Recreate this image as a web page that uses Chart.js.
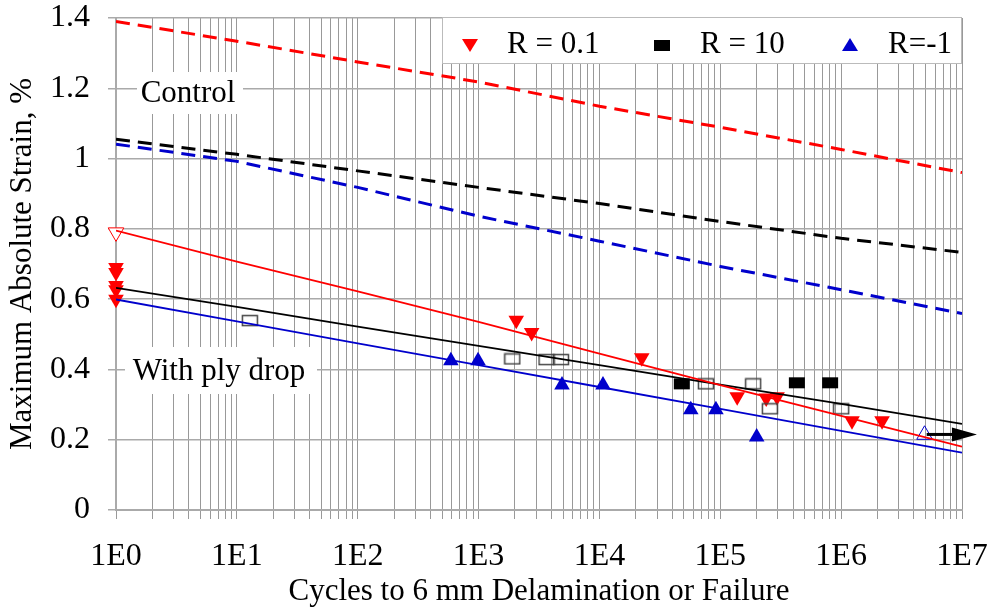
<!DOCTYPE html>
<html>
<head>
<meta charset="utf-8">
<script src="https://cdn.jsdelivr.net/npm/chart.js@4/dist/chart.umd.min.js"></script>
<style>
  html, body { margin: 0; padding: 0; background: #fff; }
  #wrap { width: 987px; height: 611px; }
</style>
</head>
<body>
<div id="wrap"><canvas id="chart"></canvas></div>
<script>
// cycles at which the fit lines were read (one per decade)
const decades = [1, 1e1, 1e2, 1e3, 1e4, 1e5, 1e6, 1e7];
const decadeLabels = ['1E0', '1E1', '1E2', '1E3', '1E4', '1E5', '1E6', '1E7'];

// control (no ply drop) fits, dashed
const controlR01 = [1.39, 1.334, 1.275, 1.218, 1.149, 1.089, 1.026, 0.96];
const controlR10 = [1.055, 1.012, 0.965, 0.918, 0.872, 0.821, 0.773, 0.733];
const controlRm1 = [1.041, 0.992, 0.918, 0.836, 0.765, 0.693, 0.627, 0.559];

// with ply drop fits, solid
const plyR01 = [0.795, 0.707, 0.622, 0.535, 0.445, 0.355, 0.268, 0.18];
const plyR10 = [0.632, 0.578, 0.522, 0.467, 0.412, 0.357, 0.302, 0.245];
const plyRm1 = [0.599, 0.537, 0.474, 0.412, 0.35, 0.288, 0.225, 0.163];

// test points
const r01Cycles = [1, 1, 1, 1, 1, 2050, 2750, 22400, 1.38e5, 2.4e5, 2.95e5, 1.23e6, 2.18e6];
const r01Strain = [0.69, 0.676, 0.639, 0.627, 0.6, 0.54, 0.505, 0.433, 0.322, 0.319, 0.322, 0.254, 0.254];
const r01OpenCycles = [1];
const r01OpenStrain = [0.79];

const r10Cycles = [4.8e4, 4.3e5, 8.1e5];
const r10Strain = [0.359, 0.362, 0.362];
const r10OpenCycles = [12.8, 1900, 3650, 4800, 7.6e4, 1.87e5, 2.57e5, 1.0e6];
const r10OpenStrain = [0.539, 0.43, 0.428, 0.428, 0.359, 0.359, 0.288, 0.288];

const rm1Cycles = [590, 990, 4900, 1.07e4, 5.7e4, 9.2e4, 2.0e5];
const rm1Strain = [0.425, 0.425, 0.356, 0.356, 0.285, 0.285, 0.208];
const rm1OpenCycles = [4.9e6];
const rm1OpenStrain = [0.214];

// run-out arrow, in data units
const arrowFrom = { x: 5.1e6, y: 0.215 };
const arrowTo = { x: 1.33e7, y: 0.215 };

const yTickValues = [0, 0.1, 0.2, 0.3, 0.4, 0.5, 0.6, 0.7, 0.8, 0.9, 1.0, 1.1, 1.2, 1.3, 1.4];

const RED = '#ff0000';
const BLUE = '#0000cc';
const FONT = "'Liberation Serif', 'Times New Roman', serif";

const pairs = (xs, ys) => xs.map((x, i) => ({ x: x, y: ys[i] }));

// log grid: 1..9 in every decade
const xTickValues = [];
decades.forEach((d, i) => {
    if (i === decades.length - 1) { xTickValues.push(d); return; }
    for (let k = 1; k < 10; k++) xTickValues.push(k * d);
});

function rectMarker(w, h, fill, stroke) {
    const c = document.createElement('canvas');
    c.width = w + 2;
    c.height = h + 2;
    const g = c.getContext('2d');
    if (fill) {
        g.fillStyle = fill;
        g.fillRect(1, 1, w, h);
    } else {
        g.strokeStyle = stroke;
        g.lineWidth = 1.5;
        g.strokeRect(1.5, 1.5, w - 1, h - 1);
    }
    return c;
}
const filledRect = rectMarker(16, 11, '#000', null);
const openRect = rectMarker(16, 11, null, '#444');

function fitLine(values, color, dashed) {
    return {
        type: 'line',
        data: pairs(decades, values),
        borderColor: color,
        borderWidth: dashed ? 3 : 1.8,
        borderDash: dashed ? [14, 8] : [],
        pointRadius: 0,
        tension: 0,
        fill: false
    };
}

function scatterSet(xs, ys, style) {
    return Object.assign({
        type: 'scatter',
        data: pairs(xs, ys),
        clip: false,
        pointHoverRadius: 0
    }, style);
}

const labelsPlugin = {
    id: 'labels',
    afterDatasetsDraw(chart) {
        const { ctx, scales: { x, y }, chartArea } = chart;
        ctx.save();

        // text boxes
        const boxes = [
            { text: 'Control', l: 137, t: 72, r: 243, b: 114 },
            { text: 'With ply drop', l: 125, t: 347, r: 317, b: 394 }
        ];
        ctx.font = '31px ' + FONT;
        ctx.textAlign = 'center';
        ctx.textBaseline = 'middle';
        boxes.forEach(bx => {
            ctx.fillStyle = '#fff';
            ctx.fillRect(bx.l, bx.t, bx.r - bx.l, bx.b - bx.t);
            ctx.fillStyle = '#000';
            ctx.fillText(bx.text, (bx.l + bx.r) / 2 - 2, (bx.t + bx.b) / 2 + 1);
        });

        // run-out arrow
        const ax0 = x.getPixelForValue(arrowFrom.x);
        const ax1 = x.getPixelForValue(arrowTo.x);
        const ay = y.getPixelForValue(arrowFrom.y);
        ctx.strokeStyle = '#000';
        ctx.lineWidth = 3;
        ctx.beginPath();
        ctx.moveTo(ax0, ay);
        ctx.lineTo(ax1 - 20, ay);
        ctx.stroke();
        ctx.fillStyle = '#000';
        ctx.beginPath();
        ctx.moveTo(ax1, ay);
        ctx.lineTo(ax1 - 25, ay - 7);
        ctx.lineTo(ax1 - 25, ay + 7);
        ctx.closePath();
        ctx.fill();

        // legend
        const lr = chartArea.right;
        const lt = chartArea.top - 1;
        const ll = 442;
        const lb = 63;
        ctx.fillStyle = '#fff';
        ctx.fillRect(ll, lt, lr - ll, lb - lt);
        ctx.strokeStyle = '#bbb';
        ctx.lineWidth = 1;
        ctx.strokeRect(ll + 0.5, lt + 0.5, lr - ll - 1, lb - lt);
        const cy = 45;
        ctx.fillStyle = RED;
        ctx.beginPath();
        ctx.moveTo(462, cy - 6);
        ctx.lineTo(478, cy - 6);
        ctx.lineTo(470, cy + 7);
        ctx.closePath();
        ctx.fill();
        ctx.drawImage(filledRect, 653, cy - 6);
        ctx.fillStyle = BLUE;
        ctx.beginPath();
        ctx.moveTo(842, cy + 6);
        ctx.lineTo(858, cy + 6);
        ctx.lineTo(850, cy - 7);
        ctx.closePath();
        ctx.fill();
        ctx.fillStyle = '#000';
        ctx.textAlign = 'left';
        ctx.fillText('R = 0.1', 507, cy);
        ctx.fillText('R = 10', 700, cy);
        ctx.fillText('R=-1', 888, cy);
        ctx.restore();
    }
};

new Chart(document.getElementById('chart'), {
    data: {
        datasets: [
            fitLine(controlR01, RED, true),
            fitLine(controlR10, '#000', true),
            fitLine(controlRm1, BLUE, true),
            fitLine(plyR01, RED, false),
            fitLine(plyR10, '#000', false),
            fitLine(plyRm1, BLUE, false),
            scatterSet(r10Cycles, r10Strain, { pointStyle: filledRect, pointRadius: 8 }),
            scatterSet(r10OpenCycles, r10OpenStrain, { pointStyle: openRect, pointRadius: 8 }),
            scatterSet(r01Cycles, r01Strain, {
                pointStyle: 'triangle', rotation: 180, pointRadius: 9,
                backgroundColor: RED, borderColor: RED, borderWidth: 0
            }),
            scatterSet(r01OpenCycles, r01OpenStrain, {
                pointStyle: 'triangle', rotation: 180, pointRadius: 9,
                backgroundColor: '#fff', borderColor: RED, borderWidth: 1
            }),
            scatterSet(rm1Cycles, rm1Strain, {
                pointStyle: 'triangle', pointRadius: 9,
                backgroundColor: BLUE, borderColor: BLUE, borderWidth: 0
            }),
            scatterSet(rm1OpenCycles, rm1OpenStrain, {
                pointStyle: 'triangle', pointRadius: 9,
                backgroundColor: 'rgba(0,0,0,0)', borderColor: BLUE, borderWidth: 1
            })
        ]
    },
    options: {
        responsive: true,
        maintainAspectRatio: false,
        animation: false,
        layout: { padding: { top: 18, right: 25, left: 0, bottom: 0 } },
        plugins: {
            legend: { display: false },
            tooltip: { enabled: false }
        },
        scales: {
            x: {
                type: 'logarithmic',
                min: 1,
                max: 1e7,
                afterFit: (scale) => {
                    scale.height = 101;
                    scale.paddingLeft = 0;
                    scale.paddingRight = 0;
                },
                afterBuildTicks: (scale) => {
                    scale.ticks = xTickValues.map(v => ({ value: v }));
                },
                grid: { color: '#999', lineWidth: 1, tickLength: 9 },
                border: { color: '#aaa', width: 2 },
                ticks: {
                    autoSkip: false,
                    maxRotation: 0,
                    padding: 18,
                    color: '#000',
                    font: { family: FONT, size: 32 },
                    callback: (v) => {
                        const i = decades.indexOf(v);
                        return i >= 0 ? decadeLabels[i] : '';
                    }
                },
                title: {
                    display: true,
                    text: 'Cycles to 6 mm Delamination or Failure',
                    color: '#000',
                    font: { family: FONT, size: 31 },
                    padding: { top: 0, bottom: 1 }
                }
            },
            y: {
                type: 'linear',
                min: 0,
                max: 1.4,
                afterFit: (scale) => {
                    scale.width = 116;
                    scale.paddingTop = 0;
                    scale.paddingBottom = 0;
                },
                afterBuildTicks: (scale) => {
                    scale.ticks = yTickValues.map(v => ({ value: v }));
                },
                grid: { color: '#aaa', lineWidth: 1.5, tickLength: 8 },
                border: { color: '#aaa', width: 2 },
                ticks: {
                    padding: 18,
                    color: '#000',
                    font: { family: FONT, size: 32 },
                    callback: (v) => Math.round(v * 10) % 2 === 0 ? String(Math.round(v * 10) / 10) : ''
                },
                title: {
                    display: true,
                    text: 'Maximum Absolute Strain, %',
                    color: '#000',
                    font: { family: FONT, size: 31 },
                    padding: { top: 4, bottom: 0 }
                }
            }
        }
    },
    plugins: [labelsPlugin]
});
</script>
</body>
</html>
